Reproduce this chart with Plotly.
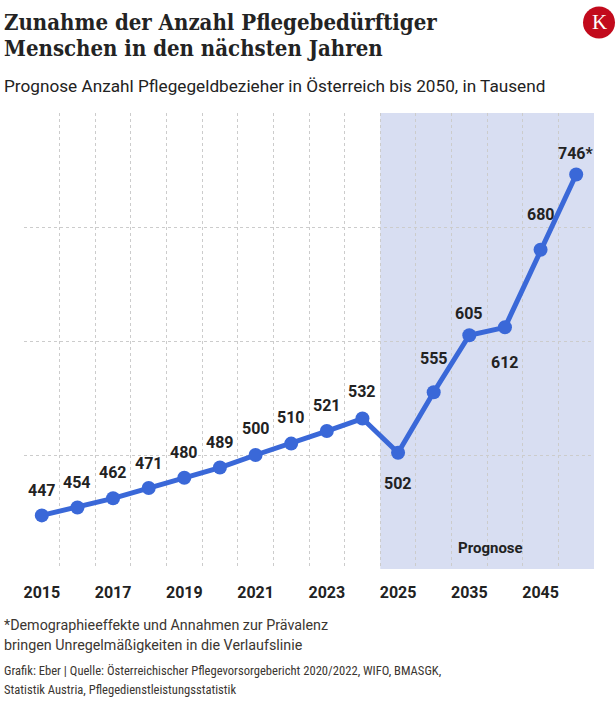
import plotly.graph_objects as go

# ---- data ----
years = ["2015", "2016", "2017", "2018", "2019", "2020", "2021", "2022", "2023", "2024",
         "2025", "2030", "2035", "2040", "2045", "2050"]
values = [447, 454, 462, 471, 480, 489, 500, 510, 521, 532, 502, 555, 605, 612, 680, 746]
value_labels = ["447", "454", "462", "471", "480", "489", "500", "510", "521", "532",
                "502", "555", "605", "612", "680", "746*"]
shown_ticks = ["2015", "2017", "2019", "2021", "2023", "2025", "2035", "2045"]
forecast_start = "2025"

# ---- style ----
W, H = 616, 711
L, R, T, B = 24, 22, 113, 142
PW, PH = W - L - R, H - T - B
label_shift = [25, 25, 26, 25, 25, 25, 27, 26, 26, 27, -31, 34, 22, -35, 35, 21]
BLUE = "#3a68d8"
TXT = "#222222"


def px(x):
    return (x - L) / PW


def py(y):
    return (H - B - y) / PH


fig = go.Figure()

fig.add_trace(go.Scatter(
    x=list(range(len(years))), y=values, mode="lines+markers",
    line=dict(color=BLUE, width=5),
    marker=dict(color=BLUE, size=14),
    hoverinfo="skip", showlegend=False,
))

# forecast shading
i0 = years.index(forecast_start) - 0.5
i1 = len(years) - 0.5
fig.add_vrect(x0=i0, x1=i1, fillcolor="#d8def2", line_width=0, layer="below")

ann = []
for i, (v, lab, s) in enumerate(zip(values, value_labels, label_shift)):
    ann.append(dict(x=i, y=v, xref="x", yref="y", text=lab, showarrow=False, yshift=s,
                    xanchor="center", yanchor="middle",
                    font=dict(family="Roboto", size=16, color=TXT, weight="bold")))

ann.append(dict(x=(i0 + i1) / 2 + 0.1, y=418, xref="x", yref="y", text="Prognose",
                showarrow=False, xanchor="center", yanchor="middle",
                font=dict(family="Roboto", size=15, color=TXT, weight="bold")))

title_font = dict(family="DejaVu Serif Condensed, DejaVu Serif", size=22, color="#232323", weight="bold")
ann.append(dict(xref="paper", yref="paper", x=px(2), y=py(22), text="Zunahme der Anzahl Pflegebedürftiger",
                showarrow=False, xanchor="left", yanchor="middle", font=title_font))
ann.append(dict(xref="paper", yref="paper", x=px(2), y=py(48), text="Menschen in den nächsten Jahren",
                showarrow=False, xanchor="left", yanchor="middle", font=title_font))
ann.append(dict(xref="paper", yref="paper", x=px(2), y=py(86),
                text="Prognose Anzahl Pflegegeldbezieher in Österreich bis 2050, in Tausend",
                showarrow=False, xanchor="left", yanchor="middle",
                font=dict(family="Roboto", size=17.2, color=TXT)))

foot_font = dict(family="Roboto", size=14.3, color="#3b3631")
ann.append(dict(xref="paper", yref="paper", x=px(2), y=py(625),
                text="*Demographieeffekte und Annahmen zur Prävalenz",
                showarrow=False, xanchor="left", yanchor="middle", font=foot_font))
ann.append(dict(xref="paper", yref="paper", x=px(2), y=py(645),
                text="bringen Unregelmäßigkeiten in die Verlaufslinie",
                showarrow=False, xanchor="left", yanchor="middle", font=foot_font))
src_font = dict(family="Roboto Condensed, Liberation Sans Narrow, Roboto", size=12.6, color="#3b3631")
ann.append(dict(xref="paper", yref="paper", x=px(2), y=py(670),
                text="Grafik: Eber | Quelle: Österreichischer Pflegevorsorgebericht 2020/2022, WIFO, BMASGK,",
                showarrow=False, xanchor="left", yanchor="middle", font=src_font))
ann.append(dict(xref="paper", yref="paper", x=px(2), y=py(689),
                text="Statistik Austria, Pflegedienstleistungsstatistik",
                showarrow=False, xanchor="left", yanchor="middle", font=src_font))

# logo
cx, cy, r = 599, 22.5, 16
fig.add_shape(type="circle", xref="paper", yref="paper",
              x0=px(cx - r), x1=px(cx + r), y0=py(cy + r), y1=py(cy - r),
              fillcolor="#c20a1c", line_width=0)
ann.append(dict(xref="paper", yref="paper", x=px(cx), y=py(cy), text="K",
                showarrow=False, xanchor="center", yanchor="middle",
                font=dict(family="Liberation Serif", size=21, color="white")))

fig.update_layout(
    width=W, height=H,
    margin=dict(l=L, r=R, t=T, b=B, autoexpand=False),
    paper_bgcolor="white", plot_bgcolor="white",
    annotations=ann,
    xaxis=dict(
        tickmode="array", tickvals=list(range(len(years))),
        ticktext=[y if y in shown_ticks else "" for y in years],
        tickangle=0, range=[-0.5, len(years) - 0.5],
        showgrid=False, zeroline=False, showline=False,
        ticks="", ticklabelstandoff=12,
        minor=dict(tickmode="linear", tick0=-0.5, dtick=1, showgrid=True,
                   gridcolor="#cccccc", griddash="dot", gridwidth=1, ticks=""),
        tickfont=dict(family="Roboto", size=16, color=TXT, weight="bold"),
    ),
    yaxis=dict(
        range=[400, 800], dtick=100, showticklabels=False,
        showgrid=True, gridcolor="#cccccc", griddash="dot", gridwidth=1,
        zeroline=False, showline=False,
    ),
)

fig.write_html("out.html", config={"displayModeBar": False},
               post_script="document.body.style.margin='0px';document.body.style.overflow='hidden';")
